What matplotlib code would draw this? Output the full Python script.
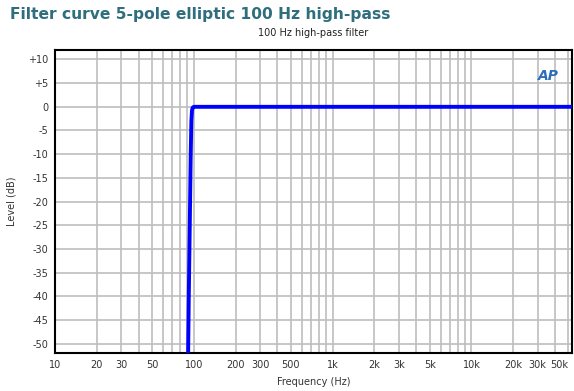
import matplotlib
matplotlib.use("Agg")
import matplotlib.pyplot as plt
from matplotlib.ticker import FixedLocator, NullFormatter

# Data
freq_hz = [90, 91, 92, 93, 94, 95, 96, 97, 98, 100, 120, 200, 1000, 10000, 60000]
level_db = [-70, -52, -40, -30, -20, -10, -3, -0.8, -0.2, 0, 0, 0, 0, 0, 0]

xtick_vals = [10, 20, 30, 50, 100, 200, 300, 500, 1000, 2000, 3000, 5000,
              10000, 20000, 30000, 50000]
xtick_labels = ["10", "20", "30", "50", "100", "200", "300", "500", "1k", "2k",
                "3k", "5k", "10k", "20k", "30k", "50k"]
ytick_vals = [10, 5, 0, -5, -10, -15, -20, -25, -30, -35, -40, -45, -50]
ytick_labels = ["+10", "+5", "0", "-5", "-10", "-15", "-20", "-25", "-30",
                "-35", "-40", "-45", "-50"]

plt.rcParams['font.family'] = ['DejaVu Sans']

fig = plt.figure(figsize=(5.74, 3.91), dpi=100)
ax = fig.add_axes([55/574, 1 - 353/391, (572-55)/574, (353-50)/391])

ax.set_xscale('log')
ax.set_xlim(10, 53000)
ax.set_ylim(-52, 12)

# minor grid at 2..9 per decade, skipping labelled values
minor = []
for dec in [10, 100, 1000, 10000]:
    for m in range(2, 10):
        v = dec * m
        if v <= 53000 and v not in xtick_vals:
            minor.append(v)
ax.xaxis.set_major_locator(FixedLocator(xtick_vals))
ax.xaxis.set_minor_locator(FixedLocator(minor))
ax.xaxis.set_minor_formatter(NullFormatter())
ax.set_xticklabels(xtick_labels)
ax.set_yticks(ytick_vals)
ax.set_yticklabels(ytick_labels)

ax.grid(True, which='both', axis='x', color='#bdbdbd', linewidth=1.2)
ax.grid(True, which='major', axis='y', color='#bdbdbd', linewidth=1.2)
ax.set_axisbelow(True)

ax.tick_params(which='both', length=0, labelsize=7, labelcolor='#333333', pad=5)
# last label sits at the right edge, pull it in a little so it stays on the figure
ax.get_xticklabels()[-1].set_horizontalalignment('right')
ax.get_xticklabels()[-1].set_x(ax.get_xticklabels()[-1].get_position()[0])

for s in ax.spines.values():
    s.set_linewidth(1.5)
    s.set_color('black')

ax.plot(freq_hz, level_db, color='#0000ff', linewidth=2.8,
        solid_joinstyle='round', zorder=3)

ax.set_xlabel("Frequency (Hz)", fontsize=7, color='#333333', labelpad=5)
ax.set_ylabel("Level (dB)", fontsize=7, color='#333333', labelpad=8)

fig.text(10/574, 1 - 14/391, "Filter curve 5-pole elliptic 100 Hz high-pass",
         fontsize=11.2, fontweight='bold', color='#2f6f7d', va='center', ha='left')
ax.set_title("100 Hz high-pass filter", fontsize=7, color='#222222', pad=10)

ax.text(0.955, 0.915, "AP", transform=ax.transAxes, fontsize=10,
        fontweight='bold', fontstyle='italic', color='#2a6ebb',
        ha='center', va='center')

fig.savefig("out.png", dpi=100)
